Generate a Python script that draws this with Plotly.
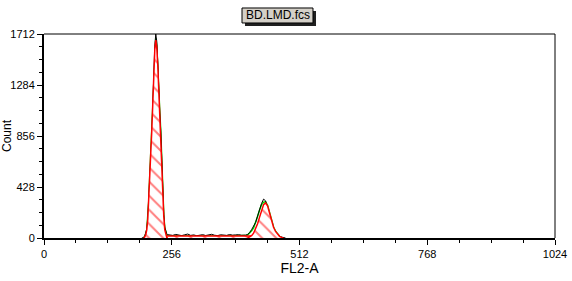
import plotly.graph_objects as go

# ---- data ----
data_ch = ([196] + list(range(200, 250, 2)) + list(range(252, 400, 6)) + list(range(400, 488, 4)))
data_count = ([0] +
              [5, 20, 40, 75, 170, 320, 560, 720, 860, 1120, 1400, 1610, 1712, 1650, 1470, 1190, 1050, 900, 640, 380, 195, 90, 50, 35, 28] +
              [25, 22, 30, 24, 20, 27, 33, 22, 26, 19, 24, 28, 21, 26, 31, 23, 20, 27, 25, 22, 29, 24, 26, 28, 23] +
              [22, 24, 30, 45, 70, 100, 130, 185, 240, 290, 326, 312, 250, 185, 120, 80, 48, 28, 16, 8, 4, 0])

fit_ch = list(range(200, 250, 2)) + [260, 300, 350, 400] + list(range(404, 484, 4))
fit_count = [0, 12, 32, 72, 165, 315, 530, 725, 905, 1140, 1400, 1595, 1675, 1615, 1465, 1235, 1065, 895, 635, 385,
             195, 86, 36, 22, 18, 17, 17, 17, 18, 20, 25, 42, 60, 85, 126, 180, 235, 280, 300,
             304, 275, 212, 145, 92, 56, 30, 14, 5, 0]

g1_ch = list(range(200, 250, 2))
g1_count = [0, 10, 30, 70, 160, 310, 520, 720, 900, 1130, 1390, 1580, 1660, 1600, 1450, 1220, 1050, 880, 620, 370,
            180, 70, 20, 5, 0]

s_ch = [222, 226, 260, 300, 350, 400, 436, 446, 452]
s_count = [0, 17, 17, 17, 17, 17, 17, 8, 0]

g2_ch = list(range(408, 484, 4))
g2_count = [0, 8, 20, 40, 75, 120, 175, 235, 280, 294, 270, 210, 140, 90, 55, 30, 14, 5, 0]

x_ticks = [0, 256, 512, 768, 1024]
y_ticks = [0, 428, 856, 1284, 1712]
title_text = "BD.LMD.fcs"

FONT = "Liberation Sans, Arial, sans-serif"
hatch = dict(shape="\\", fgcolor="red", bgcolor="white", size=10, solidity=0.2)

fig = go.Figure()
fig.add_trace(go.Scatter(x=fit_ch, y=fit_count, mode="lines",
                         line=dict(color="#00dd00", width=1.5), hoverinfo="skip"))
fig.add_trace(go.Scatter(x=data_ch, y=data_count, mode="lines",
                         line=dict(color="black", width=1), hoverinfo="skip"))
fig.add_trace(go.Scatter(x=s_ch, y=s_count, mode="lines", fill="tozeroy",
                         fillcolor="white", fillpattern=hatch,
                         line=dict(color="red", width=1.5), hoverinfo="skip"))
fig.add_trace(go.Scatter(x=g1_ch, y=g1_count, mode="lines", fill="tozeroy",
                         fillcolor="white", fillpattern=hatch,
                         line=dict(color="red", width=1.5), hoverinfo="skip"))
fig.add_trace(go.Scatter(x=g2_ch, y=g2_count, mode="lines", fill="tozeroy",
                         fillcolor="white", fillpattern=hatch,
                         line=dict(color="red", width=1.5), hoverinfo="skip"))

fig.update_layout(
    width=572, height=281,
    margin=dict(l=44, r=17, t=34, b=43),
    paper_bgcolor="white", plot_bgcolor="white",
    showlegend=False,
    font=dict(family=FONT, color="black", size=11),
    xaxis=dict(range=[0, 1024], tickvals=x_ticks, ticktext=[str(v) for v in x_ticks],
               ticks="outside", ticklen=5, tickwidth=1, tickcolor="black",
               minor=dict(dtick=64, ticks="outside", ticklen=3, tickcolor="black"),
               showline=True, linecolor="black", linewidth=2, showgrid=False, zeroline=False,
               automargin=False,
               title=dict(text="FL2-A", font=dict(size=14, family=FONT), standoff=4),
               tickfont=dict(size=11, family=FONT)),
    yaxis=dict(range=[0, 1712], tickvals=y_ticks, ticktext=[str(v) for v in y_ticks],
               ticks="outside", ticklen=5, tickwidth=1, tickcolor="black",
               minor=dict(dtick=107, ticks="outside", ticklen=3, tickcolor="black"),
               showline=True, linecolor="black", linewidth=2, showgrid=False, zeroline=False,
               automargin=False,
               title=dict(text="Count", font=dict(size=12, family=FONT), standoff=4),
               tickfont=dict(size=11, family=FONT)),
    shapes=[
        dict(type="line", xref="paper", yref="paper", x0=0, x1=1, y0=1, y1=1,
             line=dict(color="black", width=1)),
        dict(type="line", xref="paper", yref="paper", x0=1, x1=1, y0=0, y1=1,
             line=dict(color="black", width=1)),
        dict(type="rect", xref="paper", yref="paper", x0=0.3933, x1=0.5323, y0=1.039, y1=1.1127,
             fillcolor="#202020", line=dict(width=0)),
        dict(type="rect", xref="paper", yref="paper", x0=0.3875, x1=0.5264, y0=1.054, y1=1.1275,
             fillcolor="#d4d0c8", line=dict(color="black", width=1)),
    ],
    annotations=[
        dict(text=title_text, xref="paper", yref="paper", x=0.457, y=1.0907,
             showarrow=False, font=dict(size=12, family=FONT, color="black"),
             xanchor="center", yanchor="middle"),
    ],
)

fig.write_html("out.html")
